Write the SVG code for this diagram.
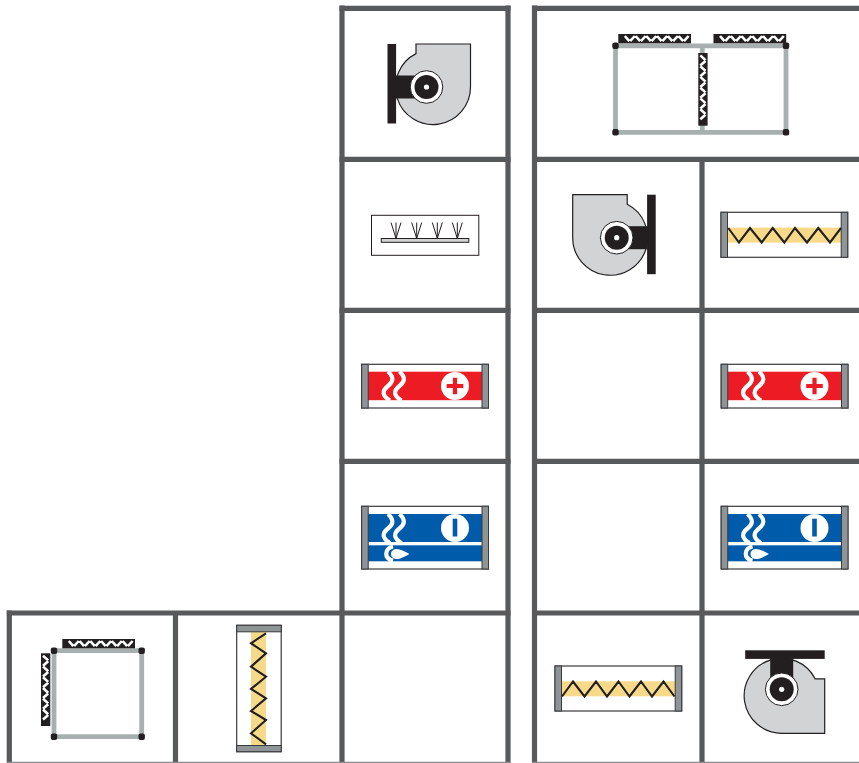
<svg xmlns="http://www.w3.org/2000/svg" width="859" height="763" viewBox="0 0 859 763">
<style>
.g{stroke:#58595b;stroke-width:5.200;fill:none}
.frame{fill:none;stroke:#a7b0ae;stroke-width:4.800}
.dark{fill:#231f20}
.zig{fill:none;stroke:#231f20;stroke-width:2.100}
.white{fill:none;stroke:#fff;stroke-width:4.200}
.wz{fill:none;stroke:#fff;stroke-width:2.600}
.box{fill:#fff;stroke:#3a3a3c;stroke-width:1.200}
.side{fill:#8f9597;stroke:#3a3a3c;stroke-width:1}
</style>
<defs>
<g id="fan">
<path d="M-10.500,-43H44V0A37.500,37.500 0 1 1 -10.500,-33.400Z" fill="#d1d3d4" stroke="#231f20" stroke-width="1.200"/>
<rect class="dark" x="-39" y="-43" width="8.600" height="79.500"/>
<rect class="dark" x="-31" y="-11.500" width="31" height="23"/>
<circle r="16.300" fill="#fff" stroke="#231f20" stroke-width="1"/>
<circle class="dark" r="12"/>
<circle r="2.600" fill="#fff"/>
</g>
<g id="filter">
<rect class="dark" width="72.700" height="9.300"/>
<path class="wz" d="M6.500,2L11,7.200M11.800,7.200L16.500,2M17.300,2L21.800,7.200M22.600,7.200L27.300,2M28,2L32.500,7.200M33.300,7.200L38,2M38.800,2L43.300,7.200M44.100,7.200L48.800,2M49.500,2L54,7.200M54.800,7.200L59.500,2M60.300,2L64.800,7.200M65.600,7.200L70.300,2"/>
</g>
<g id="corners">
<rect x="-3.200" y="-3.200" width="6.400" height="6.400" rx="2"/>
</g>
<g id="wave">
<path class="white" d="M388,371.500C394,377 393.500,381.500 388.500,385.500C381.500,391 382,395.500 390,400.500"/>
<path class="white" d="M399.500,371.500C405.500,377 405,381.500 400,385.500C393,391 393.500,395.500 401.500,400.500"/>
</g>
<g id="coilRed">
<rect class="box" x="361.700" y="364.300" width="126.700" height="43.700"/>
<rect x="368" y="371.700" width="114" height="28.500" fill="#ed1c24"/>
<rect class="side" x="361.700" y="364.300" width="6.500" height="43.700"/>
<rect class="side" x="482" y="364.300" width="6.500" height="43.700"/>
<use href="#wave"/>
<circle cx="455" cy="386" r="14" fill="#fff"/>
<path d="M446.700,386H463.300M455,377.700V394.300" stroke="#ed1c24" stroke-width="4.200" fill="none"/>
</g>
<g id="coilBlue">
<rect class="box" x="361.700" y="506.300" width="126.700" height="62.700"/>
<rect x="368" y="514" width="114" height="28" fill="#005bab"/>
<rect x="368" y="545.300" width="114" height="16" fill="#005bab"/>
<rect class="side" x="361.700" y="506.300" width="6.500" height="62.700"/>
<rect class="side" x="482" y="506.300" width="6.500" height="62.700"/>
<use href="#wave" transform="translate(0,142.500)"/>
<circle cx="455" cy="528" r="14" fill="#fff"/>
<rect x="452.700" y="518.700" width="4.600" height="17.800" fill="#005bab"/>
<path class="white" d="M393,546.500C384.500,548.500 383.500,558.500 393,560.500"/>
<path d="M409.500,554C404,551 400,548.800 396,549C393,549.200 391,551.500 391,554C391,556.500 393,558.800 396,559C400,559.200 404,557 409.500,554Z" fill="#fff"/>
</g>
<g id="damperH">
<rect class="box" x="0" y="0" width="126.700" height="45"/>
<rect x="6.500" y="15.300" width="114" height="15" fill="#f6da8a"/>
<rect class="side" x="0" y="0" width="6.500" height="45"/>
<rect class="side" x="120.200" y="0" width="6.500" height="45"/>
</g>
</defs>

<g id="grid">
<path class="g" d="M342,5.500V763M508,5.500V763M534.500,5.500V763M702,159V763M175.500,613V763M9.300,610.500V763"/>
<path class="g" d="M339.500,8.300H510.500M532,8.300H859M339.500,159.300H510.500M532,159.300H859M339.500,310.300H510.500M532,310.300H859M339.500,461.300H510.500M532,461.300H859M6.800,613H510.500M532,613H859"/>
<path d="M7,762.500H510M532,762.500H859" stroke="#8a8c8e" stroke-width="1.500" fill="none"/>
</g>

<g id="fan-top-left"><use href="#fan" transform="translate(426.500,87)"/></g>

<g id="filter-box-top-right">
<path class="frame" d="M615.500,45.800H786V132.300H615.500ZM702.300,45.800V132.300"/>
<g class="dark"><use href="#corners" x="615.500" y="45.800"/><use href="#corners" x="786" y="45.800"/><use href="#corners" x="615.500" y="132.300"/><use href="#corners" x="786" y="132.300"/></g>
<use href="#filter" transform="translate(618.300,34)"/>
<use href="#filter" transform="translate(713.500,34)"/>
<use href="#filter" transform="translate(698.300,125.700) rotate(-90)"/>
</g>

<g id="spray">
<rect x="371.500" y="215.300" width="107.300" height="40" fill="#fff" stroke="#231f20" stroke-width="1"/>
<rect x="381.300" y="238.500" width="87.500" height="3.800" fill="#d1d3d4" stroke="#231f20" stroke-width="1"/>
<path fill="none" stroke="#231f20" stroke-width="1" d="M396,238.500L391,222.500M396,238.500V222.500M396,238.500L401,222.500M416.700,238.500L411.700,222.500M416.700,238.500V222.500M416.700,238.500L421.700,222.500M437.300,238.500L432.300,222.500M437.300,238.500V222.500M437.300,238.500L442.300,222.500M457.300,238.500L452.300,222.500M457.300,238.500V222.500M457.300,238.500L462.300,222.500"/>
</g>

<g id="fan-row2"><use href="#fan" transform="translate(616.700,237.700) scale(-1,1)"/></g>

<g id="damper-row2">
<use href="#damperH" transform="translate(721,212.300)"/>
<path class="zig" d="M728.300,228L739,242.500L750,228L761.700,242.500L772.700,228L784.300,242.500L795,228L807,242.500L818.300,228L830,242.500L841,228"/>
</g>

<g id="coil-red-left"><use href="#coilRed"/></g>
<g id="coil-red-right"><use href="#coilRed" transform="translate(359.500,0)"/></g>
<g id="coil-blue-left"><use href="#coilBlue"/></g>
<g id="coil-blue-right"><use href="#coilBlue" transform="translate(359.500,0)"/></g>

<g id="filter-box-bottom-left">
<path class="frame" d="M54,650.700H141.700V736.700H54Z"/>
<g class="dark"><use href="#corners" x="54" y="650.700"/><use href="#corners" x="141.700" y="650.700"/><use href="#corners" x="54" y="736.700"/><use href="#corners" x="141.700" y="736.700"/></g>
<use href="#filter" transform="translate(62.300,639)"/>
<use href="#filter" transform="translate(41,726) rotate(-90)"/>
</g>

<g id="damper-vertical">
<rect class="box" x="236.700" y="625.300" width="44.500" height="126.400"/>
<rect x="251" y="631" width="15" height="115" fill="#f6da8a"/>
<rect class="side" x="236.700" y="625.300" width="44.500" height="6.500"/>
<rect class="side" x="236.700" y="745.500" width="44.500" height="6.200"/>
<path class="zig" d="M266,633.300L251,643.300L266,653.300L251,666.700L266,676.700L251,689L266,698.300L251,711L266,720L251,733.300L266,744.300"/>
</g>

<g id="damper-bottom">
<use href="#damperH" transform="translate(555,666)"/>
<path class="zig" d="M562,696.500L573,681.500L584.500,696.500L596,681.500L607,696.500L618.500,681.500L629.500,696.500L641,681.500L652,696.500L663.500,681.500L674.500,696.500"/>
</g>

<g id="fan-bottom-right"><use href="#fan" transform="translate(781.700,689.300) rotate(90)"/></g>
</svg>
